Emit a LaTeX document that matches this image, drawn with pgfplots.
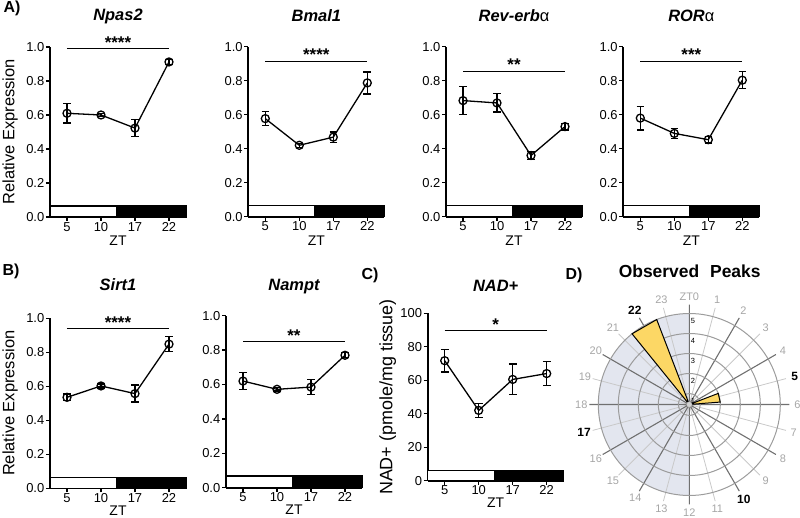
\documentclass[border=0pt]{standalone}
\usepackage{fontspec}
\setmainfont{Liberation Sans}
\usepackage{pgfplots}
\pgfplotsset{compat=1.18}
\usepgfplotslibrary{polar}
\definecolor{shadebg}{HTML}{E3E6EF}
\definecolor{wedge}{HTML}{FCD765}
\definecolor{darkspoke}{HTML}{707070}
\definecolor{lightspoke}{HTML}{C9C9C9}
\definecolor{ringc}{HTML}{9C9C9C}
\definecolor{lblgray}{HTML}{A6A6A6}
\newcommand{\fs}[1]{\fontsize{#1}{#1}\selectfont}
\pgfplotsset{
  gp/.style={
    scale only axis, width=136bp, height=170bp,
    anchor=south west,
    axis x line*=bottom, axis y line*=left,
    axis line style={line width=1.7bp, -},
    xmin=-0.5, xmax=3.5, ymin=0, ymax=1,
    xtick={0,1,2,3}, xticklabels={5,10,17,22},
    ytick={0,0.2,0.4,0.6,0.8,1},
    tick style={line width=1.3bp, black},
    tick align=outside, major tick length=4bp,
    tick label style={font=\fs{13}},
    yticklabel style={inner sep=1.5bp, /pgf/number format/fixed, /pgf/number format/fixed zerofill, /pgf/number format/precision=1, /pgf/number format/assume math mode=true},
    xticklabel style={inner sep=1bp},
    xlabel={ZT},
    xlabel style={font=\fs{14}, at={([yshift=-24bp]axis description cs:0.5,0)}, anchor=center, inner sep=0},
    ylabel style={font=\fs{16.5}, at={([xshift=-40bp]axis description cs:0,0.5)}, anchor=center, inner sep=0},
    title style={font=\fs{16.5}\bfseries\itshape, anchor=center, inner sep=0},
    clip=false,
  },
  ser/.style={black, line width=1.3bp, mark=o, mark size=4bp,
    mark options={solid, line width=1.3bp, fill=none},
    error bars/.cd, y dir=both, y explicit,
    error mark=-,
    error mark options={rotate=90, black, line width=1.3bp, mark size=3.8bp},
    error bar style={black, line width=1.3bp}},
  ldbar/.style={draw=black, line width=1.4bp},
  sig/.style={black, line width=1.1bp, no marks},
}
\newcommand{\LD}[1]{%
  \addplot[ldbar, fill=white] coordinates {(-0.5,0) (-0.5,#1) (1.46,#1) (1.46,0)} -- cycle;
  \addplot[ldbar, fill=black] coordinates {(1.46,0) (1.46,#1) (3.5,#1) (3.5,0)} -- cycle;}
\newcommand{\Sig}[2]{%
  \addplot[sig] coordinates {(0,#1) (3,#1)};
  \node[anchor=south, inner sep=0, font=\fs{17}\bfseries] at (axis cs:1.5,#1) {#2};}
\begin{document}
\begin{tikzpicture}
\useasboundingbox (0,0) rectangle (800bp,518bp);
% ---------- Row A ----------
\begin{axis}[gp, at={(50bp,301bp)}, title={Npas2}, ylabel={Relative Expression},
  title style={at={([yshift=25bp]axis description cs:0.5,1)}}]
\LD{0.065}
\Sig{0.99}{****}
\addplot[ser] table[y error=e] {
x y e
0 0.610 0.057
1 0.600 0.010
2 0.523 0.050
3 0.912 0.015
};
\end{axis}
\begin{axis}[gp, at={(248.3bp,301.3bp)}, title={Bmal1},
  title style={at={([yshift=25bp]axis description cs:0.5,1)}}]
\LD{0.065}
\Sig{0.915}{****}
\addplot[ser] table[y error=e] {
x y e
0 0.577 0.040
1 0.420 0.012
2 0.468 0.030
3 0.787 0.065
};
\end{axis}
\begin{axis}[gp, at={(446bp,301.3bp)}, title={Rev-erb{\mdseries\upshape α}},
  title style={at={([yshift=25bp]axis description cs:0.5,1)}}]
\LD{0.065}
\Sig{0.856}{**}
\addplot[ser] table[y error=e] {
x y e
0 0.683 0.083
1 0.669 0.054
2 0.360 0.025
3 0.530 0.020
};
\end{axis}
\begin{axis}[gp, at={(623.3bp,301.3bp)}, title={ROR{\mdseries\upshape α}},
  title style={at={([yshift=25bp]axis description cs:0.5,1)}}]
\LD{0.065}
\Sig{0.915}{***}
\addplot[ser] table[y error=e] {
x y e
0 0.580 0.070
1 0.490 0.030
2 0.453 0.020
3 0.803 0.050
};
\end{axis}
% ---------- Row B/C ----------
\begin{axis}[gp, at={(50bp,29.7bp)}, title={Sirt1}, ylabel={Relative Expression},
  title style={at={([yshift=28bp]axis description cs:0.5,1)}},
  xlabel style={at={([yshift=-22bp]axis description cs:0.5,0)}}]
\LD{0.065}
\Sig{0.94}{****}
\addplot[ser] table[y error=e] {
x y e
0 0.535 0.020
1 0.602 0.012
2 0.557 0.050
3 0.848 0.045
};
\end{axis}
\begin{axis}[gp, at={(226bp,30.3bp)}, height=172bp, title={Nampt},
  title style={at={([yshift=22.7bp]axis description cs:0.5,1)}},
  xlabel style={at={([yshift=-22bp]axis description cs:0.5,0)}}]
\LD{0.068}
\Sig{0.85}{**}
\addplot[ser] table[y error=e] {
x y e
0 0.620 0.048
1 0.572 0.010
2 0.585 0.045
3 0.770 0.015
};
\end{axis}
\begin{axis}[gp, at={(427.7bp,37.3bp)}, height=167.4bp, title={NAD+},
  ymax=100, ytick={0,20,40,60,80,100},
  yticklabel style={/pgf/number format/fixed zerofill=false, /pgf/number format/precision=0},
  ylabel={NAD+ (pmole/mg tissue)}, ylabel style={font=\fs{18}},
  title style={at={([yshift=21.6bp]axis description cs:0.5,1)}},
  xlabel style={at={([yshift=-22bp]axis description cs:0.5,0)}}]
\LD{6.0}
\Sig{89.6}{*}
\addplot[ser] table[y error=e] {
x y e
0 71.7 6.8
1 42.0 4.2
2 60.5 9.2
3 64.0 7.2
};
\end{axis}
% ---------- Panel letters ----------
\node[font=\fs{16}\bfseries] at (12bp,509.5bp) {A)};
\node[font=\fs{16}\bfseries] at (11bp,246.3bp) {B)};
\node[font=\fs{16}\bfseries] at (370bp,243bp) {C)};
\node[font=\fs{16}\bfseries] at (574bp,243bp) {D)};
\node[font=\fs{17.5}\bfseries] at (689.7bp,246.3bp) {Observed\hspace{0.35em} Peaks};
% ---------- Polar (D) ----------
\fill[shadebg] (689.3bp,113.5bp) -- ++(0,-91bp) arc[start angle=-90, end angle=-270, radius=91bp] -- cycle;
\begin{scope}[shift={(689.3bp,113.5bp)}, cm={0,1,1,0,(0,0)}]
\begin{polaraxis}[
  at={(0,0)}, anchor=center, scale only axis, width=200bp, height=200bp,
  x coord trafo/.code={\pgfmathparse{15*#1}},
  y coord trafo/.code={\pgfmathparse{#1-0.45}},
  xmin=0, xmax=24, ymin=0.45, ymax=5.45,
  xtick={0,2,4,6,8,10,12,14,16,18,20,22},
  minor xtick={1,3,5,7,9,11,13,15,17,19,21,23},
  ytick={1,2,3,4,5},
  xticklabels={}, yticklabels={},
  grid=both,
  major x grid style={darkspoke, line width=1.1bp},
  minor x grid style={lightspoke, line width=0.8bp},
  major y grid style={ringc, line width=1bp},
  axis line style={draw=none},
  tick style={draw=none},
  clip=false,
]
\addplot[fill=wedge, draw=black, line width=1bp] coordinates {(21.4,0.45) (21.4,5) (22.6,5)} -- cycle;
\addplot[fill=wedge, draw=black, line width=1bp] coordinates {(4.6,0.45) (4.6,2) (5.7,2)} -- cycle;
\end{polaraxis}
\end{scope}
\fill[gray!35, draw=gray!70] (689.3bp,113.5bp) circle (2.8bp);
\foreach \k in {1,2,3,4,5}
  \node[font=\fs{7.5}, anchor=west, inner sep=0.3bp] at (690.3bp,{(113.5+20*\k-16)*1bp}) {\k};
\foreach \h in {1,2,3,4,6,7,8,9,11,12,13,14,15,16,18,19,20,21,23}
  \node[text=lblgray, font=\fs{11}] at ([shift={({90-15*\h}:108bp)}]689.3bp,113.5bp) {\h};
\node[text=lblgray, font=\fs{11}] at ([shift={(90:108bp)}]689.3bp,113.5bp) {ZT0};
\foreach \h in {5,10,17,22}
  \node[font=\fs{12}\bfseries] at ([shift={({90-15*\h}:109bp)}]689.3bp,113.5bp) {\h};
\end{tikzpicture}
\end{document}
